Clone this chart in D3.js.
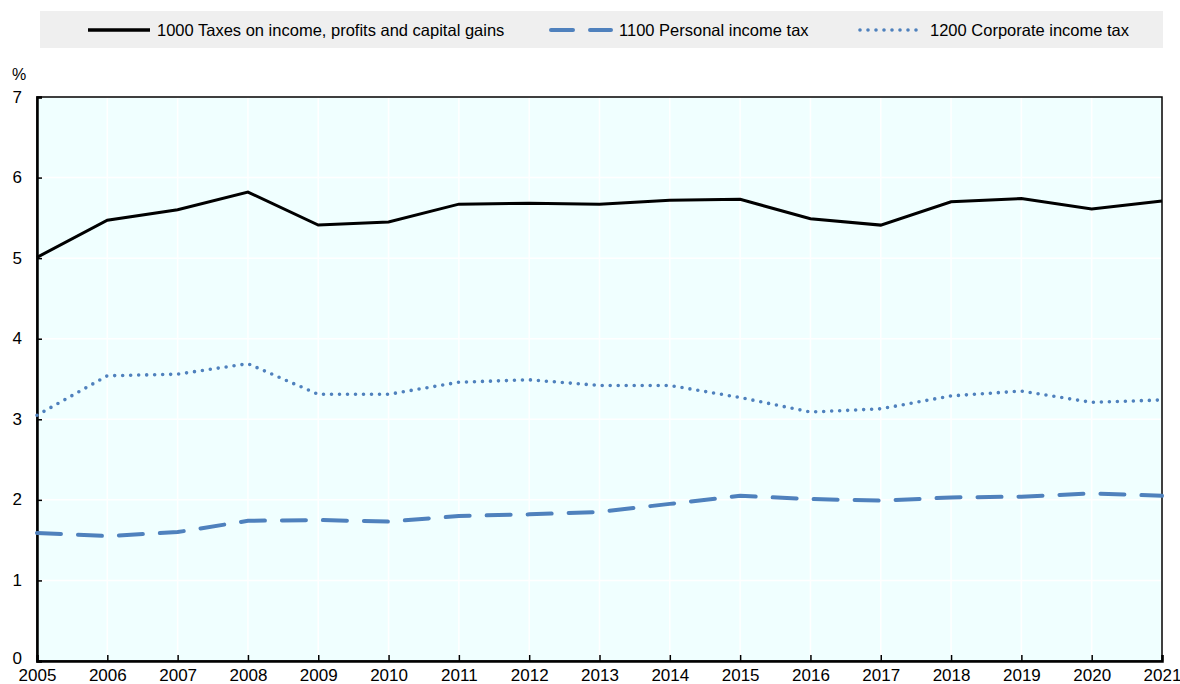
<!DOCTYPE html>
<html><head><meta charset="utf-8">
<script src="https://cdn.jsdelivr.net/npm/d3@7"></script>
<style>body{margin:0;background:#fff;}svg{display:block;font-family:"Liberation Sans",Arial,sans-serif;}</style>
</head><body><svg id="c" width="1180" height="684"></svg>
<script>
const years = [2005,2006,2007,2008,2009,2010,2011,2012,2013,2014,2015,2016,2017,2018,2019,2020,2021];
const taxesIncome = [5.01,5.47,5.60,5.82,5.41,5.45,5.67,5.68,5.67,5.72,5.73,5.49,5.41,5.70,5.74,5.61,5.71];
const personalTax = [1.59,1.55,1.60,1.74,1.75,1.73,1.80,1.82,1.85,1.95,2.05,2.01,1.99,2.03,2.04,2.08,2.05];
const corporateTax = [3.05,3.54,3.56,3.69,3.31,3.31,3.46,3.49,3.42,3.42,3.27,3.09,3.13,3.29,3.35,3.21,3.24];
const yTicks = [0,1,2,3,4,5,6,7];
const seriesNames = ["1000 Taxes on income, profits and capital gains","1100 Personal income tax","1200 Corporate income tax"];

const svg = d3.select("#c");
const blue = "#4F81BD";
const x = d3.scaleLinear().domain([2005,2021]).range([37,1162]);
const y = d3.scaleLinear().domain([0,7]).range([661,97]);

svg.append("rect").attr("x",x(2005)).attr("y",y(7)).attr("width",x(2021)-x(2005)).attr("height",y(0)-y(7)).attr("fill","#F0FFFF");
svg.append("g").selectAll("line").data(years).join("line")
  .attr("x1",d=>x(d)).attr("x2",d=>x(d)).attr("y1",y(0)).attr("y2",y(7)).attr("stroke","#fff").attr("stroke-width",1.5);
svg.append("g").selectAll("line").data(yTicks).join("line")
  .attr("x1",x(2005)).attr("x2",x(2021)).attr("y1",d=>y(d)).attr("y2",d=>y(d)).attr("stroke","#fff").attr("stroke-width",1.5);

svg.append("rect").attr("x",x(2005)).attr("y",y(7)).attr("width",x(2021)-x(2005)).attr("height",y(0)-y(7))
  .attr("fill","none").attr("stroke","#000").attr("stroke-width",1.5);

const yAxis = d3.axisLeft(y).tickValues(yTicks).tickSize(-5).tickPadding(15).tickFormat(d3.format("d"));
const gy = svg.append("g").attr("transform",`translate(${x(2005)},0)`).call(yAxis);
gy.select(".domain").attr("stroke","#000").attr("stroke-width",2.5);
gy.selectAll(".tick line").attr("stroke","#000").attr("stroke-width",1.5);
gy.selectAll(".tick text").attr("font-size",17).attr("fill","#000").attr("font-family","Liberation Sans, Arial, sans-serif")
  .attr("dy",d=>d===0?"0.12em":"0.3em");

const xAxis = d3.axisBottom(x).tickValues(years).tickSize(-6).tickPadding(6).tickFormat(d3.format("d"));
const gx = svg.append("g").attr("transform",`translate(0,${y(0)})`).call(xAxis);
gx.select(".domain").attr("stroke","#000").attr("stroke-width",2.5);
gx.selectAll(".tick line").attr("stroke","#000").attr("stroke-width",1.5);
gx.selectAll(".tick text").attr("font-size",17).attr("fill","#000").attr("font-family","Liberation Sans, Arial, sans-serif").attr("dy","0.8em");

svg.append("text").attr("x",19).attr("y",80).attr("text-anchor","middle").attr("font-size",16).text("%");

const line = d3.line().x((d,i)=>x(years[i])).y(d=>y(d));
svg.append("path").datum(personalTax).attr("d",line).attr("fill","none").attr("stroke",blue)
  .attr("stroke-width",4).attr("stroke-dasharray","24,17").attr("stroke-linecap","round");
svg.append("path").datum(corporateTax).attr("d",line).attr("fill","none").attr("stroke",blue)
  .attr("stroke-width",3.6).attr("stroke-dasharray","0,8").attr("stroke-linecap","round");
svg.append("path").datum(taxesIncome).attr("d",line).attr("fill","none").attr("stroke","#000")
  .attr("stroke-width",3).attr("stroke-linejoin","miter");

svg.append("rect").attr("x",40).attr("y",11).attr("width",1123).attr("height",37).attr("fill","#EFEFEF");
const leg = [
  {x1:88,x2:150,tx:157,stroke:"#000",w:3.5,dash:null,cap:"butt"},
  {x1:551,x2:611,tx:619,stroke:blue,w:4,dash:"22,17",cap:"round"},
  {x1:860,x2:924,tx:930,stroke:blue,w:3.6,dash:"0,8",cap:"round"}
];
leg.forEach((l,i)=>{
  svg.append("line").attr("x1",l.x1).attr("x2",l.x2).attr("y1",30).attr("y2",30)
    .attr("stroke",l.stroke).attr("stroke-width",l.w).attr("stroke-dasharray",l.dash).attr("stroke-linecap",l.cap);
  svg.append("text").attr("x",l.tx).attr("y",36).attr("font-size",16.5).attr("fill","#000").text(seriesNames[i]);
});
</script></body></html>
